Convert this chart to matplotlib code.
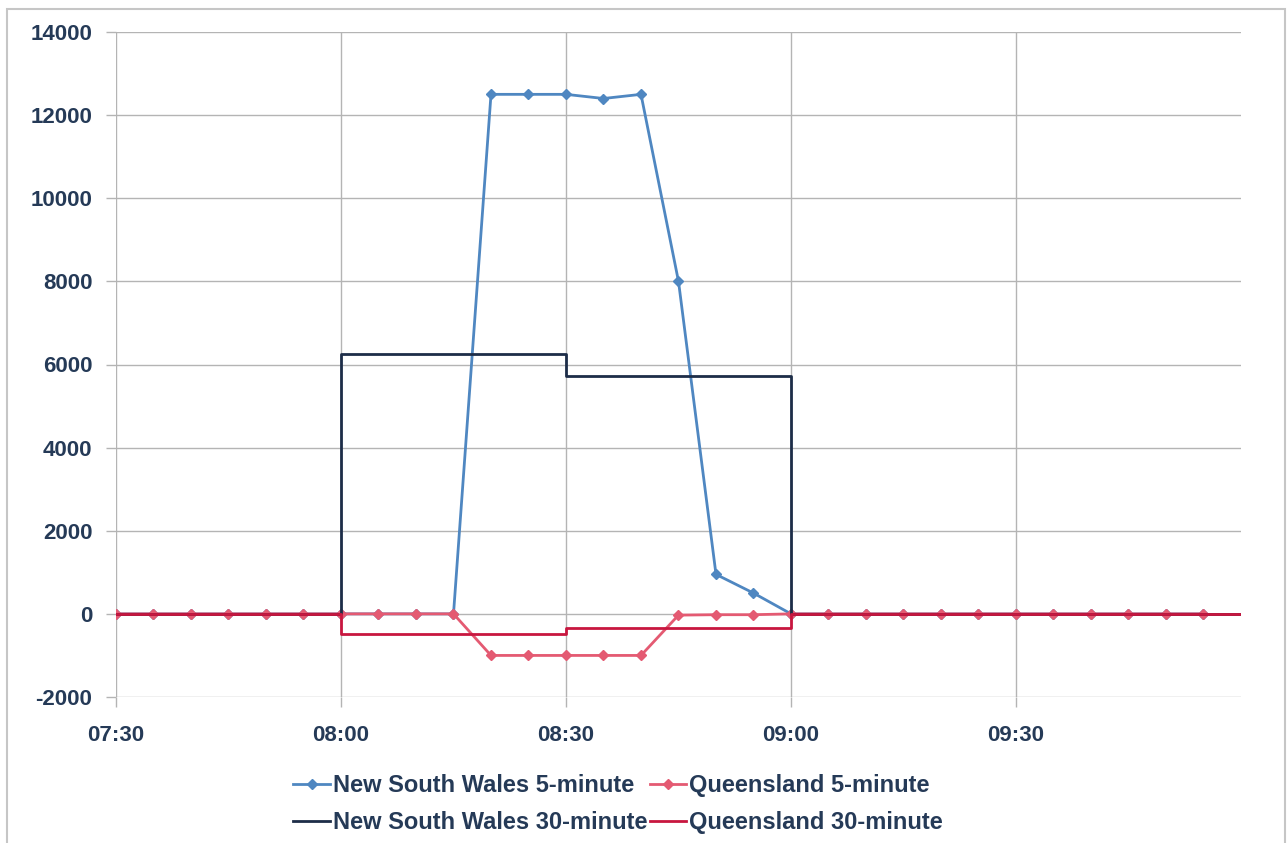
import datetime as dt
import matplotlib.pyplot as plt
import matplotlib.dates as mdates
from matplotlib.patches import Rectangle

# 5-minute dispatch intervals
times_5min = ["07:30", "07:35", "07:40", "07:45", "07:50", "07:55",
              "08:00", "08:05", "08:10", "08:15", "08:20", "08:25",
              "08:30", "08:35", "08:40", "08:45", "08:50", "08:55",
              "09:00", "09:05", "09:10", "09:15", "09:20", "09:25",
              "09:30", "09:35", "09:40", "09:45", "09:50", "09:55"]
nsw_5min = [0, 0, 0, 0, 0, 0, 0, 0, 0, 0,
            12500, 12500, 12500, 12400, 12500, 8000, 950, 500,
            0, 0, 0, 0, 0, 0, 0, 0, 0, 0, 0, 0]
qld_5min = [0, 0, 0, 0, 0, 0, 0, 0, 0, 0,
            -1000, -1000, -1000, -1000, -1000, -30, -20, -20,
            0, 0, 0, 0, 0, 0, 0, 0, 0, 0, 0, 0]

# 30-minute trading intervals (step values, last point closes the axis)
times_30min = ["07:30", "08:00", "08:30", "09:00", "09:30", "10:00"]
nsw_30min = [0, 6250, 5720, 0, 0, 0]
qld_30min = [0, -480, -330, 0, 0, 0]

tick_labels = ["07:30", "08:00", "08:30", "09:00", "09:30"]
y_ticks = [-2000, 0, 2000, 4000, 6000, 8000, 10000, 12000, 14000]


def to_time(s):
    h, m = s.split(":")
    return dt.datetime(2020, 1, 1, int(h), int(m))


t5 = [to_time(s) for s in times_5min]
t30 = [to_time(s) for s in times_30min]

text_col = "#253a57"
plt.rcParams["font.family"] = ["Liberation Sans", "DejaVu Sans"]
plt.rcParams["axes.unicode_minus"] = False

fig = plt.figure(figsize=(12.88, 8.43), dpi=100)
ax = fig.add_axes([116 / 1288, 1 - 697 / 843, 1125 / 1288, 665 / 843])

l1, = ax.plot(t5, nsw_5min, color="#4f87c1", lw=2.0, marker="D", ms=5,
              label="New South Wales 5-minute", zorder=3)
l2, = ax.plot(t5, qld_5min, color="#e45a72", lw=2.0, marker="D", ms=5,
              label="Queensland 5-minute", zorder=4)
l3, = ax.plot(t30, nsw_30min, color="#1d2d48", lw=2.0, drawstyle="steps-post",
              label="New South Wales 30-minute", zorder=5)
l4, = ax.plot(t30, qld_30min, color="#c8163f", lw=2.0, drawstyle="steps-post",
              label="Queensland 30-minute", zorder=6)

ax.set_xlim(to_time("07:30"), to_time("10:00"))
ax.set_ylim(-2000, 14000)
ax.set_xticks([to_time(s) for s in tick_labels])
ax.xaxis.set_major_formatter(mdates.DateFormatter("%H:%M"))
ax.set_yticks(y_ticks)

for s in ax.spines.values():
    s.set_visible(False)
ax.grid(True, color="#b4b4b4", lw=1.0)
ax.tick_params(axis="both", color="#b4b4b4", length=7, width=1.0,
               labelsize=16, labelcolor=text_col)
ax.tick_params(axis="x", pad=13)
ax.tick_params(axis="y", pad=10)
for lab in ax.get_xticklabels() + ax.get_yticklabels():
    lab.set_fontweight("bold")

# column-first fill: row 1 = 5-minute series, row 2 = 30-minute series
handles = [l1, l3, l2, l4]
leg = fig.legend(handles, [h.get_label() for h in handles],
                 loc="center", bbox_to_anchor=(618 / 1288, 1 - 804 / 843),
                 ncol=2, frameon=False, handlelength=1.55, handletextpad=0.12,
                 columnspacing=0.1, labelspacing=0.6, borderpad=0,
                 prop={"size": 17, "weight": "bold"})
for t in leg.get_texts():
    t.set_color(text_col)

# light frame around the chart area
fig.patches.append(Rectangle((7 / 1288, -0.05), 1278 / 1288, 1.05 - 9 / 843,
                             transform=fig.transFigure, fill=False,
                             edgecolor="#c6c6c6", lw=1.5))

fig.savefig("out.png", dpi=100)
